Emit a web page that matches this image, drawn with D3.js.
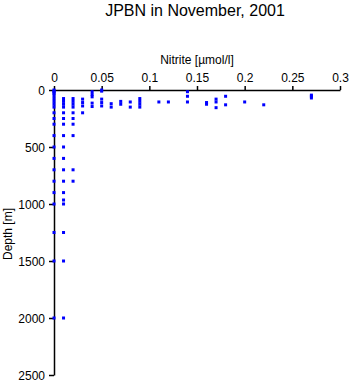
<!DOCTYPE html>
<html><head><meta charset="utf-8">
<script src="https://cdn.jsdelivr.net/npm/d3@7"></script>
<style>body{margin:0;background:#fff}svg{display:block}text{font-family:"Liberation Sans",Arial,sans-serif}</style>
</head><body>
<svg id="c" width="350" height="384"></svg>
<script>
const title = "JPBN in November, 2001";
const xLabel = "Nitrite [\u00b5mol/l]";
const yLabel = "Depth [m]";
const xTicks = [0, 0.05, 0.1, 0.15, 0.2, 0.25, 0.3];
const yTicks = [0, 500, 1000, 1500, 2000, 2500];
// nitrite values and matching depths
const nitrite = [
  0,0,0,0,0,0,0,0,0,0,0,0,0,0,0,0,0,0,0,0,0,0,
  0.01,0.01,0.01,0.01,0.01,0.01,0.01,0.01,0.01,0.01,0.01,0.01,0.01,0.01,0.01,0.01,0.01,0.01,
  0.02,0.02,0.02,0.02,0.02,0.02,0.02,0.02,0.02,0.02,
  0.03,0.03,0.03,0.03,
  0.04,0.04,0.04,0.04,0.04,
  0.05,0.05,0.05,0.05,0.05,
  0.06,0.06,
  0.07,0.07,
  0.08,0.08,
  0.09,0.09,0.09,0.09,
  0.11,0.12,
  0.14,0.14,0.14,
  0.16,0.16,
  0.17,0.17,0.17,
  0.18,0.18,
  0.2,0.22,
  0.27,0.27,0.27
];
const depth = [
  0,10,20,30,50,75,100,125,150,200,250,300,400,500,600,700,800,900,1000,1250,1500,2000,
  75,100,125,150,200,250,300,400,500,600,700,800,900,965,1000,1250,1500,2000,
  75,100,125,150,200,250,300,400,700,800,
  80,110,140,200,
  15,40,60,115,145,
  0,10,80,110,140,
  120,150,
  100,125,
  105,150,
  75,100,125,150,
  105,105,
  15,55,105,
  110,125,
  80,105,155,
  55,130,
  105,130,
  45,55,70
];

const svg = d3.select("#c");
const x = d3.scaleLinear().domain([0, 0.3]).range([54, 340]);
const y = d3.scaleLinear().domain([0, 2500]).range([90, 375]);

svg.append("text").attr("x", 195).attr("y", 16).attr("text-anchor", "middle")
  .attr("font-size", 16).text(title);

const xa = svg.append("g").attr("transform", "translate(0,90)")
  .call(d3.axisTop(x).tickValues(xTicks).tickFormat(d3.format("~g")).tickSize(4).tickSizeOuter(0));
const ya = svg.append("g").attr("transform", "translate(54,0)")
  .call(d3.axisLeft(y).tickValues(yTicks).tickFormat(d3.format("d")).tickSize(5).tickSizeOuter(0));
[xa, ya].forEach(g => {
  g.select(".domain").attr("stroke", "#000").attr("stroke-width", 1.5);
  g.selectAll(".tick line").attr("stroke", "#000").attr("stroke-width", 1.5);
  g.selectAll(".tick text").attr("font-size", 12).attr("font-family", "Liberation Sans, Arial, sans-serif").attr("fill", "#000");
});
xa.selectAll(".tick text").attr("y", -7).attr("dy", "-0.1em");
ya.selectAll(".tick text").attr("x", -9).attr("dy", "0.35em");

svg.append("text").attr("x", 197).attr("y", 64).attr("text-anchor", "middle")
  .attr("font-size", 12).text(xLabel);
svg.append("text").attr("transform", "translate(12,234) rotate(-90)").attr("text-anchor", "middle")
  .attr("font-size", 12).text(yLabel);

const pts = nitrite.map((v, i) => ({v, d: depth[i]}));
svg.append("g").selectAll("rect").data(pts).join("rect")
  .attr("x", p => x(p.v) - 1.5).attr("y", p => y(p.d) - 1.5)
  .attr("width", 3).attr("height", 3).attr("fill", "#0000ff");
</script>
</body></html>
